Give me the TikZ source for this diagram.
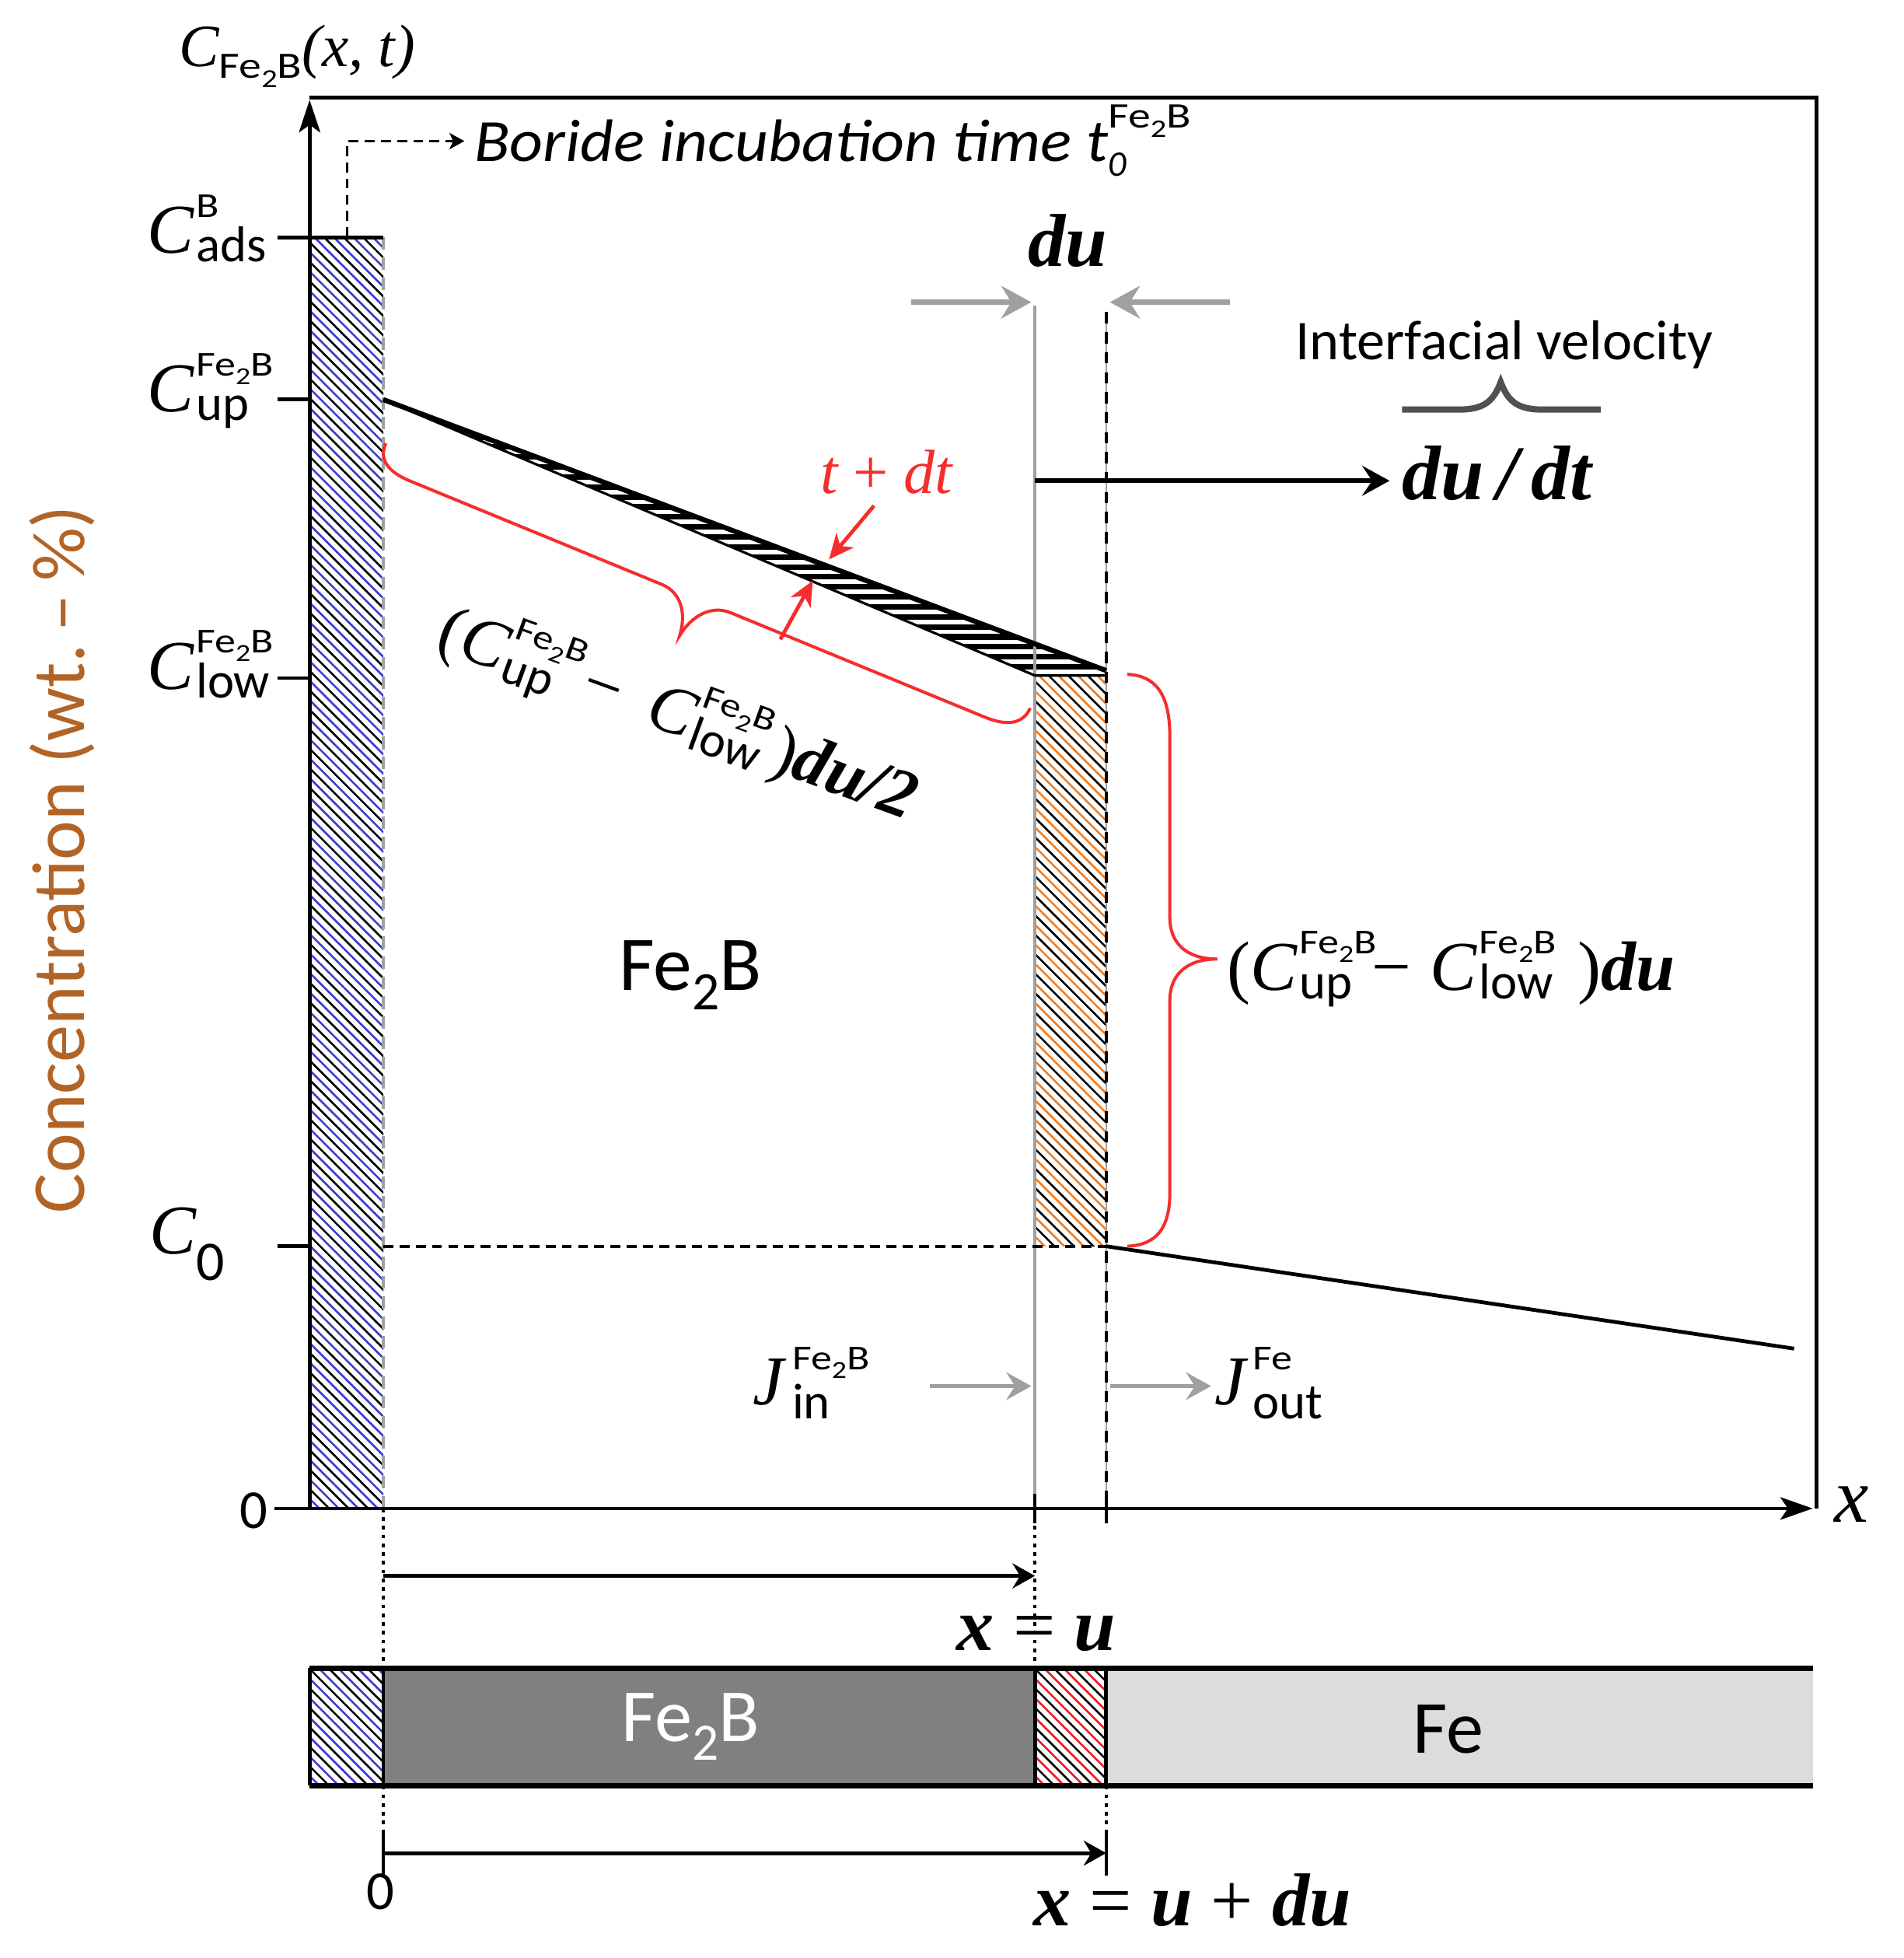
\documentclass[tikz,border=0pt]{standalone}
\usepackage{graphicx}
\usepackage{fontspec}
\setmainfont{Carlito}
\newfontfamily\tms{Liberation Serif}
\usetikzlibrary{arrows.meta}
\definecolor{hblue}{RGB}{60,60,210}
\definecolor{horange}{RGB}{245,125,30}
\definecolor{hred}{RGB}{235,30,40}
\definecolor{bred}{RGB}{245,45,45}
\definecolor{lgray}{RGB}{160,160,160}
\definecolor{dgray}{RGB}{128,128,128}
\definecolor{fegray}{RGB}{220,220,220}
\definecolor{axlab}{RGB}{178,100,38}
\definecolor{brgray}{RGB}{80,80,80}
\newsavebox\ssA \newsavebox\ssB \newlength\ssL
\newcommand\SupSub[4]{\sbox\ssA{#2}\sbox\ssB{#4}\ssL=\wd\ssA\ifdim\wd\ssB>\ssL\ssL=\wd\ssB\fi\makebox[\ssL][l]{\rlap{\raisebox{#1}{\usebox\ssA}}\raisebox{-#3}{\usebox\ssB}}}
\newcommand\FeB{Fe\raisebox{-0.25em}{\scalebox{0.7}{2}}B}
\newcommand\Cvar[2]{{\tms\itshape C}\kern0.03em\SupSub{0.52em}{\scalebox{0.6}[0.5]{#1}}{0.12em}{\scalebox{0.72}{#2}}}
\newcommand\hatchbox[6]{%
\begin{scope}
\clip (#1,#2) rectangle (#3,#4);
\pgfmathsetmacro\hH{#4-#2}
\pgfmathtruncatemacro\hN{(#3-#1+\hH)/(2*#6)+2}
\foreach \k in {0,...,\hN}{
 \draw[line width=1.6pt,black] ({#1-\hH+2*#6*\k-10},#2-10) -- ++({\hH+30},{\hH+30});
 \draw[line width=1.6pt,#5] ({#1-\hH+#6+2*#6*\k-10},#2-10) -- ++({\hH+30},{\hH+30});
}
\end{scope}}
\begin{document}
\begin{tikzpicture}[x=1pt,y=-1pt,
  lab/.style={inner sep=0pt,outer sep=0pt},
  axisline/.style={line width=3pt},
  tickline/.style={line width=3pt},
  dotline/.style={line width=2.5pt,dash pattern=on 3pt off 4pt},
  dashline/.style={line width=2.5pt,dash pattern=on 8pt off 5pt},
  grayarrow/.style={lgray,line width=4.5pt,-{Stealth[length=24pt,width=26pt,inset=8pt]}},
  jarrow/.style={lgray,line width=3.5pt,-{Stealth[length=20pt,width=22pt,inset=7pt]}},
  blackarrow/.style={line width=4pt,-{Stealth[length=22pt,width=24pt,inset=8pt]}},
  dimarrow/.style={line width=3pt,-{Stealth[length=18pt,width=20pt,inset=6pt]}},
  redarrow/.style={bred,line width=3pt,-{Stealth[length=20pt,width=18pt,inset=6pt]}},
  redbrace/.style={bred,line width=2.5pt}]
\useasboundingbox (0,0) rectangle (1525,1568);
% ---------- coordinates
\coordinate (O) at (248,1208);
\coordinate (Xs) at (220,1208);
\coordinate (Xe) at (1452,1208);
\coordinate (Yt) at (248,80);
\coordinate (FTL) at (248,78);
\coordinate (FTR) at (1455,78);
\coordinate (FBR) at (1455,1208);
\coordinate (Pup) at (307,320);
\coordinate (Pnew) at (886,537);
\coordinate (Pold) at (829,541);
\coordinate (Pc0) at (886,998);
\coordinate (Pend) at (1437,1080);
% ---------- hatched bars
\hatchbox{248}{190}{307}{1208}{hblue}{7.8}
\hatchbox{829}{541}{886}{998}{horange}{7.8}
% sliver between profiles
\begin{scope}
\clip (Pup) -- (Pnew) -- (886,541) -- (Pold) -- cycle;
\foreach \yy in {318,326,...,550} \draw[line width=4.4pt] (300,\yy) -- (900,\yy);
\end{scope}
% ---------- bottom bar
\fill[dgray] (307,1336) rectangle (829,1430);
\fill[fegray] (886,1336) rectangle (1452,1430);
\hatchbox{248}{1336}{307}{1430}{hblue}{7.8}
\hatchbox{829}{1336}{886}{1430}{hred}{7.8}
\draw[line width=4pt] (248,1336) -- (1452,1336);
\draw[line width=4pt] (248,1430) -- (1452,1430);
\foreach \xx in {248,307,829,886} \draw[line width=3pt] (\xx,1336) -- (\xx,1430);
% ---------- vertical guide lines
\draw[lgray,line width=2.5pt] (829,245) -- (829,1208);
\draw[lgray,line width=1.5pt] (886,250) -- (886,1208);
\draw[line width=2.5pt,dash pattern=on 9pt off 7pt] (886,250) -- (886,1208);
\draw[lgray,line width=2pt,dash pattern=on 10pt off 6pt] (307,190) -- (307,1208);
% ---------- axes and frame
\draw[axisline] (FTL) -- (FTR) -- (FBR);
\draw[axisline,-{Stealth[length=26pt,width=17pt,inset=6pt]}] (O) -- (Yt);
\draw[axisline,-{Stealth[length=26pt,width=18pt,inset=6pt]}] (Xs) -- (Xe);
\draw[tickline] (222,190) -- (307,190);
\draw[tickline] (222,320) -- (248,320);
\draw[tickline] (222,543) -- (248,543);
\draw[tickline] (222,998) -- (248,998);
\draw[line width=2.5pt] (829,1196) -- (829,1220);
\draw[line width=2.5pt] (886,1196) -- (886,1220);
% ---------- profiles
\draw[line width=4pt] (Pup) -- (Pnew);
\draw[line width=2pt] (Pup) -- (Pold) -- (886,541);
\draw[dashline] (307,998) -- (Pc0);
\draw[line width=3pt] (Pc0) -- (Pend);
% incubation dashed arrow
\coordinate (Ib) at (278,190);
\coordinate (Ic) at (278,113);
\coordinate (Ie) at (372,113);
\draw[line width=2pt,dash pattern=on 8pt off 5pt,-{Stealth[length=12pt,width=13pt,inset=3pt]}] (Ib) -- (Ic) -- (Ie);
% ---------- du arrows
\coordinate (duA) at (730,242); \coordinate (duB) at (826,242);
\coordinate (duC) at (985,242); \coordinate (duD) at (889,242);
\draw[grayarrow] (duA) -- (duB);
\draw[grayarrow] (duC) -- (duD);
% velocity arrow
\coordinate (vA) at (829,385); \coordinate (vB) at (1113,385);
\draw[blackarrow] (vA) -- (vB);
% J arrows
\coordinate (jA) at (745,1110); \coordinate (jB) at (826,1110);
\coordinate (jC) at (889,1110); \coordinate (jD) at (970,1110);
\draw[jarrow] (jA) -- (jB);
\draw[jarrow] (jC) -- (jD);
% red arrows
\coordinate (rA) at (700,405); \coordinate (rB) at (664,448);
\coordinate (rC) at (625,512); \coordinate (rD) at (651,465);
\draw[redarrow] (rA) -- (rB);
\draw[redarrow] (rC) -- (rD);
% ---------- dotted lines and dimension arrows
\draw[dotline] (307,1208) -- (307,1336);
\draw[dotline] (829,1208) -- (829,1336);
\draw[dotline] (307,1430) -- (307,1468);
\draw[dotline] (886,1430) -- (886,1468);
\draw[line width=2.5pt] (307,1468) -- (307,1502);
\draw[line width=2.5pt] (886,1468) -- (886,1502);
\coordinate (dA) at (307,1262); \coordinate (dB) at (829,1262);
\coordinate (dC) at (307,1484); \coordinate (dD) at (886,1484);
\draw[dimarrow] (dA) -- (dB);
\draw[dimarrow] (dC) -- (dD);
% ---------- braces
\draw[redbrace] (903,540) .. controls (925,541) and (937,555) .. (937,590) -- (937,735)
  .. controls (937,755) and (950,768) .. (975,768)
  .. controls (950,768) and (937,781) .. (937,801) -- (937,955)
  .. controls (937,985) and (925,997) .. (903,998);
\begin{scope}[shift={(309,355)},x={(0.925,0.380)},y={(-0.380,0.925)}]
\draw[redbrace] (0,0) .. controls (0,14) and (8,24) .. (30,24) -- (248,24)
  .. controls (266,24) and (276,42) .. (278,62)
  .. controls (280,42) and (290,24) .. (308,24) -- (528,24)
  .. controls (550,24) and (558,14) .. (558,0);
\end{scope}
\draw[brgray,line width=5pt] (1123,328) -- (1168,328) .. controls (1188,328) and (1196,322) .. (1202,306)
  .. controls (1208,322) and (1216,328) .. (1236,328) -- (1282,328);
% ---------- labels
\node[lab,font=\fontsize{48}{56}\selectfont] (ylab) at (238,45) {{\tms\itshape C}\raisebox{-0.2em}{\scalebox{0.75}[0.62]{\FeB}}{\tms\itshape (x, t)}};
\node[lab,rotate=90,text=axlab,font=\fontsize{60}{70}\selectfont] (conc) at (50,688) {Concentration (wt.\,–\,\%)};
\node[lab,anchor=base west,font=\fontsize{56}{60}\selectfont] (cads) at (118,203) {\Cvar{B}{ads}};
\node[lab,anchor=base west,font=\fontsize{56}{60}\selectfont] (cup) at (118,330) {\Cvar{\FeB}{up}};
\node[lab,anchor=base west,font=\fontsize{56}{60}\selectfont] (clow) at (118,552) {\Cvar{\FeB}{low}};
\node[lab,anchor=base west,font=\fontsize{56}{60}\selectfont] (czero) at (120,1004) {{\tms\itshape C}\raisebox{-0.38em}{\scalebox{0.8}{0}}};
\node[lab,font=\fontsize{44}{50}\selectfont] (zero) at (203,1210) {0};
\node[lab,font=\fontsize{62}{70}\selectfont\tms\itshape] (xlab) at (1483,1205) {x};
\node[lab,anchor=base west,font=\fontsize{48}{56}\selectfont\itshape] (boride) at (380,129) {\scalebox{1.085}[1]{Boride incubation time t}\SupSub{0.55em}{\scalebox{0.75}[0.6]{\upshape\FeB}}{0.25em}{\scalebox{0.6}{0}}};
\node[lab,anchor=base,font=\fontsize{60}{66}\selectfont\tms\bfseries\itshape] (du) at (855,213) {du};
\node[lab,anchor=base,font=\fontsize{45}{52}\selectfont] (iv) at (1205,288) {Interfacial velocity};
\node[lab,anchor=base west,font=\fontsize{62}{66}\selectfont\tms\bfseries\itshape] (dudt) at (1123,400) {du\,/\,dt};
\node[lab,anchor=base,text=bred,font=\fontsize{50}{56}\selectfont\tms\itshape] (tdt) at (710,395) {t {\upshape+} dt};
\node[lab,rotate=-20,font=\fontsize{55}{60}\selectfont] (dlab) at (543,572) {{\tms(}\Cvar{\FeB}{up}\;\,{\tms −}\;\,\Cvar{\FeB}{low}\,{\tms)}{\tms\bfseries\itshape du/2}};
\node[lab,anchor=base,font=\fontsize{62}{66}\selectfont] (feb) at (553,793) {Fe\raisebox{-0.25em}{\scalebox{0.7}{2}}B};
\node[lab,anchor=base west,font=\fontsize{56}{60}\selectfont] (rlab) at (983,793) {{\tms(}\Cvar{\FeB}{up}\;{\tms −}\;\Cvar{\FeB}{low}\hspace{0.35em}{\tms)}{\tms\bfseries\itshape du}};
\node[lab,anchor=base west,font=\fontsize{56}{60}\selectfont] (jin) at (603,1125) {{\tms\itshape J}\kern0.12em\SupSub{0.5em}{\scalebox{0.6}[0.5]{\FeB}}{0.2em}{\scalebox{0.72}{in}}};
\node[lab,anchor=base west,font=\fontsize{56}{60}\selectfont] (jout) at (973,1125) {{\tms\itshape J}\kern0.1em\SupSub{0.5em}{\scalebox{0.6}[0.5]{Fe}}{0.2em}{\scalebox{0.72}{out}}};
\node[lab,anchor=base,font=\fontsize{60}{66}\selectfont\tms\bfseries\itshape] (xu) at (830,1322) {x {\upshape\mdseries=} u};
\node[lab,text=white,font=\fontsize{60}{64}\selectfont] (feb2) at (553,1383) {Fe\raisebox{-0.25em}{\scalebox{0.7}{2}}B};
\node[lab,font=\fontsize{60}{64}\selectfont] (fe) at (1160,1385) {Fe};
\node[lab,font=\fontsize{44}{50}\selectfont] (zero2) at (305,1515) {0};
\node[lab,anchor=base,font=\fontsize{60}{66}\selectfont\tms\bfseries\itshape] (xudu) at (955,1542) {x {\upshape\mdseries=} u {\upshape\mdseries+} du};
\end{tikzpicture}
\end{document}
